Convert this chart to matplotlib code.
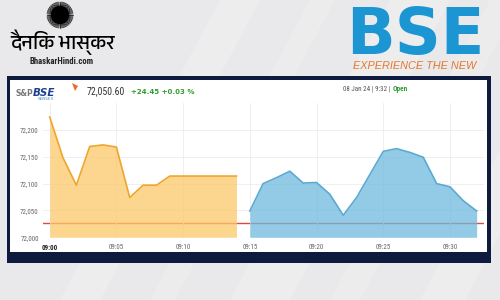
import numpy as np
import matplotlib
matplotlib.use('Agg')
import matplotlib.pyplot as plt
from matplotlib import font_manager
from matplotlib.patches import Rectangle, Circle, Polygon

# Sensex intraday, 08 Jan 24 (one point per minute from 09:00)
first_vals = [72224, 72148, 72097, 72169, 72172, 72168, 72074, 72097,
              72097, 72114, 72114, 72114, 72114, 72114, 72114]
second_vals = [72049, 72100, 72111, 72123, 72101, 72102, 72080, 72041, 72074,
               72117, 72160, 72165, 72158, 72149, 72100, 72094, 72068, 72049]
prev_close = 72026.15
tick_labels = ['09:00', '09:05', '09:10', '09:15', '09:20', '09:25', '09:30']
y_ticks = [72000, 72050, 72100, 72150, 72200]

first_x = np.arange(len(first_vals))
second_x = np.arange(len(second_vals)) + len(first_vals)

# devanagari font if there is one
names = {f.name for f in font_manager.fontManager.ttflist}
hindi_fams = [n for n in names if 'Devanagari' in n or 'Lohit' in n or n in ('FreeSans', 'Mukta', 'Gargi')]
hindi_fams = sorted(hindi_fams) + ['DejaVu Sans']
narrow = [n for n in ('Liberation Sans Narrow', 'Roboto Condensed') if n in names] + ['Liberation Sans']

fig = plt.figure(figsize=(5, 3), dpi=100)
fig.patch.set_facecolor('#e9e9eb')

# background layer in pixel coords
bg = fig.add_axes([0, 0, 1, 1])
bg.set_xlim(0, 500)
bg.set_ylim(300, 0)
bg.axis('off')
for x0, w, a in [(60, 40, 0.2), (150, 25, 0.15), (230, 60, 0.2), (330, 30, 0.15), (420, 45, 0.2)]:
    bg.add_patch(Polygon([(x0, 300), (x0 + w, 300), (x0 + w + 160, 0), (x0 + 160, 0)],
                         closed=True, color='white', alpha=a, lw=0))

# dainik bhaskar logo
bg.add_patch(Circle((60, 15), 8.5, color='black'))
for ang in np.linspace(0, 2 * np.pi, 72, endpoint=False):
    bg.plot([60 + 8 * np.cos(ang), 60 + 13 * np.cos(ang)],
            [15 + 8 * np.sin(ang), 15 + 13 * np.sin(ang)], color='black', lw=0.5)
bg.text(63, 42, 'दैनिक भास्कर', family=hindi_fams, fontsize=14.5, fontweight='bold',
        ha='center', va='center', color='black')
bg.text(62, 61, 'BhaskarHindi.com', fontsize=6.3, fontweight='bold', ha='center',
        va='center', color='#222222', family=narrow)

# BSE logo
bg.text(415, 54, 'BSE', fontsize=46, fontweight='bold', color='#1b96d3',
        ha='center', va='baseline', family='DejaVu Sans')
bg.text(415, 66, 'EXPERIENCE THE NEW', fontsize=7.8, style='italic', color='#e5782f',
        ha='center', va='center', family='Liberation Sans')

# chart frame
bg.add_patch(Rectangle((7, 76), 484, 187, color='#0e1a3e', lw=0))
bg.add_patch(Rectangle((10, 80), 477, 172, color='white', lw=0))

# header
bg.text(15, 93, 'S&P', fontsize=5.5, color='#777777', va='center', fontweight='bold')
bg.text(33, 93, 'BSE', fontsize=7.5, color='#1d3f8f', va='center', fontweight='bold', style='italic')
bg.text(38, 99.5, 'SENSEX', fontsize=3, color='#3a8fd0', va='center')
bg.add_patch(Polygon([(72, 83), (78, 86), (75, 91)], color='#ef6a2a', lw=0))
bg.text(87, 91, '72,050.60', fontsize=7, color='#333333', va='center', family=narrow)
bg.text(131, 91.5, '+24.45 +0.03 %', fontsize=5, color='#2f9e2f', va='center', fontweight='bold')
bg.text(392, 89, '08 Jan 24 | 9:32 | ', fontsize=5, color='#555555', va='center', ha='right', family=narrow)
bg.text(393, 89, 'Open', fontsize=5.2, color='#2f9e2f', va='center', fontweight='bold', family=narrow)

# chart
ax = fig.add_axes([43 / 500, (300 - 237.3) / 300, 441 / 500, 134.3 / 300])
ax.set_facecolor('none')
ax.axhline(prev_close, color='#dd4b3f', lw=1, zorder=1)
ax.fill_between(first_x, first_vals, 72000, color='#fcc96a', alpha=0.75, lw=0, zorder=2)
ax.plot(first_x, first_vals, color='#f0a52e', lw=1.2, zorder=3)
ax.fill_between(second_x, second_vals, 72000, color='#6fbade', alpha=0.75, lw=0, zorder=2)
ax.plot(second_x, second_vals, color='#5aaad3', lw=1.2, zorder=3)

ax.set_xlim(-0.5, 32.55)
ax.set_ylim(72000, 72250)
ax.set_xticks(range(0, 31, 5))
ax.set_xticklabels(tick_labels, fontsize=5, color='#666666', family=narrow)
ax.get_xticklabels()[0].set_fontweight('bold')
ax.get_xticklabels()[0].set_color('#222222')
ax.set_yticks(y_ticks)
ax.set_yticklabels([f'{v:,}' for v in y_ticks], fontsize=5, color='#666666', family=narrow)
ax.tick_params(length=0, pad=5)
ax.tick_params(axis='y', pad=3)
ax.grid(True, color='#ececec', lw=0.6, zorder=0)
for s in ax.spines.values():
    s.set_visible(False)

fig.savefig('out.png', dpi=100)
